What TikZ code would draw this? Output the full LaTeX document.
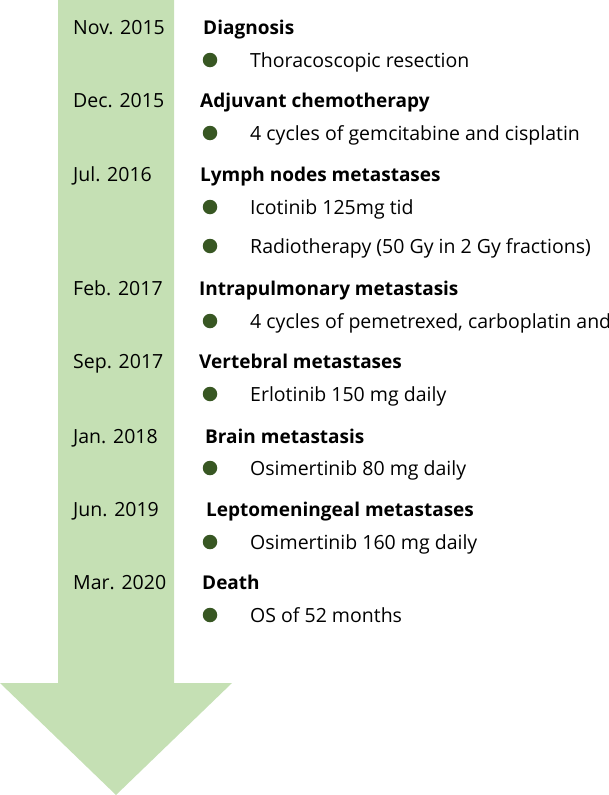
\documentclass[tikz,border=0pt]{standalone}
\usepackage{fontspec}
\setmainfont{Open Sans}
\definecolor{arrowgreen}{RGB}{197,224,180}
\definecolor{dotgreen}{RGB}{56,87,35}

\begin{document}
\begin{tikzpicture}[x=1pt, y=-1pt,
    every node/.style={font=\fontsize{19.5}{22}\selectfont, inner sep=0pt, anchor=base west},
    headtext/.style={font=\fontsize{19}{22}\selectfont\bfseries},
    dotmark/.style={circle, fill=dotgreen, minimum size=14.5pt, anchor=center}]
    \clip (0,0) rectangle (608,795);
    % timeline arrow
    \fill[arrowgreen] (58,0) -- (174,0) -- (174,683) -- (232,683) -- (116,795) -- (0,683) -- (58,683) -- cycle;
    % dates
    \node (d1) at (73,34) {Nov. 2015};
    \node (d2) at (73,107) {Dec. 2015};
    \node (d3) at (73,181) {Jul. 2016};
    \node (d4) at (73,295) {Feb. 2017};
    \node (d5) at (73,368) {Sep. 2017};
    \node (d6) at (73,443) {Jan. 2018};
    \node (d7) at (73,516) {Jun. 2019};
    \node (d8) at (73,589) {Mar. 2020};
    % events
    \node[headtext] (h1) at (203,34) {Diagnosis};
    \node[headtext] (h2) at (200,107) {Adjuvant chemotherapy};
    \node[headtext] (h3) at (200,181) {Lymph nodes metastases};
    \node[headtext] (h4) at (199,295) {Intrapulmonary metastasis};
    \node[headtext] (h5) at (199,368) {Vertebral metastases};
    \node[headtext] (h6) at (205,443) {Brain metastasis};
    \node[headtext] (h7) at (206,516) {Leptomeningeal metastases};
    \node[headtext] (h8) at (202,589) {Death};
    % treatments
    \foreach \y/\name/\txt in {60/t1/Thoracoscopic resection,
                               133/t2/4 cycles of gemcitabine and cisplatin,
                               207/t3/Icotinib 125mg tid,
                               246/t4/Radiotherapy (50 Gy in 2 Gy fractions),
                               321/t5/{4 cycles of pemetrexed, carboplatin and},
                               394/t6/Erlotinib 150 mg daily,
                               468/t7/Osimertinib 80 mg daily,
                               542/t8/Osimertinib 160 mg daily,
                               615/t9/OS of 52 months} {
        \node[dotmark] (\name-dot) at (210,\y) {};
        \node (\name) at (250,\y+7) {\txt};
    }
\end{tikzpicture}
\end{document}
